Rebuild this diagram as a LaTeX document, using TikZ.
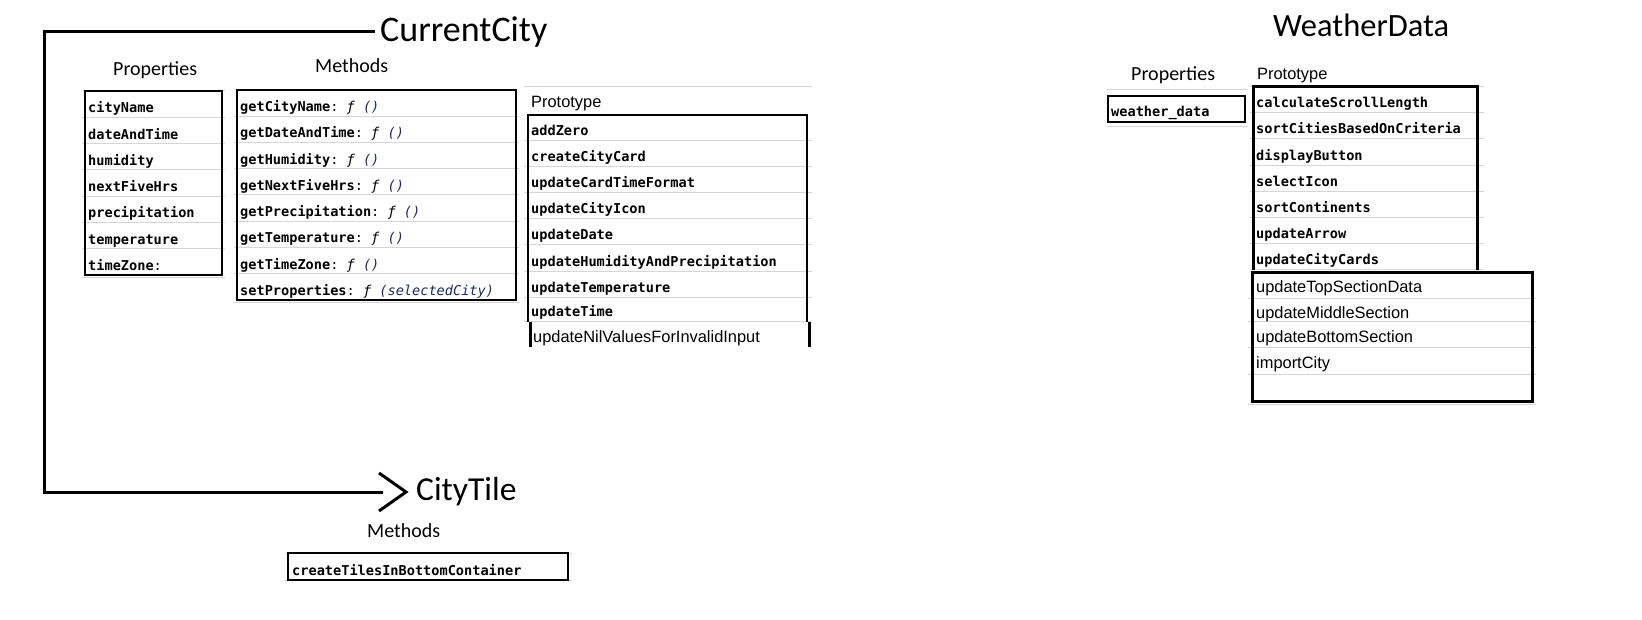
\documentclass[tikz,border=0pt]{standalone}
\usepackage{fontspec}
\setmainfont{Carlito}
\newfontfamily\arialf{Liberation Sans}
\newfontfamily\monof{DejaVu Sans Mono}
\definecolor{gridgray}{HTML}{D6D6D6}
\definecolor{navyc}{HTML}{1F2A5C}
\newcommand{\fsig}[1]{{\mdseries:\ {\itshape ƒ}\ {\itshape\color{navyc}(#1)}}}
\begin{document}
\begin{tikzpicture}[x=1pt,y=-1pt,
  boxline/.style={draw=black,line width=2.2pt},
  thickbox/.style={draw=black,line width=3pt},
  gridl/.style={draw=gridgray,line width=1pt},
  mrow/.style={anchor=base west,inner sep=0pt,font=\monof\bfseries\fontsize{13.6}{16}\selectfont},
  arow/.style={anchor=base west,inner sep=0pt,font=\arialf\fontsize{16.4}{19}\selectfont},
  lbl/.style={anchor=base west,inner sep=0pt,font=\fontsize{20}{24}\selectfont},
  conn/.style={line width=3pt}]
\fill[white] (0,0) rectangle (1642,620);
\useasboundingbox (0,0) rectangle (1642,620);

% ---------- titles ----------
\node[font=\fontsize{36}{42}\selectfont,anchor=west,inner sep=5pt] (cc) at (375,32) {CurrentCity};
\node[font=\fontsize{32.5}{38}\selectfont,anchor=base west,inner sep=0pt] (wd) at (1273,37) {WeatherData};
\node[font=\fontsize{33.5}{40}\selectfont,anchor=west,inner sep=10pt] (ct) at (406,492) {CityTile};

% ---------- connector CurrentCity -> CityTile ----------
\coordinate (c2) at (44,492);
\coordinate (tipback) at ([xshift=-23pt]ct.west);
\draw[conn,line join=miter] (cc.west) -| (c2) -- (tipback);
\draw[conn,line join=miter] ([xshift=-27pt,yshift=-19pt]ct.west) -- (ct.west) -- ([xshift=-27pt,yshift=19pt]ct.west);

% ---------- CurrentCity : Properties ----------
\node[lbl] (lp1) at (113,76) {Properties};
\foreach \k in {1,...,6} \draw[gridl] (82,{91+26.3*\k}) -- (225,{91+26.3*\k});
\draw[gridl] (82,91) -- (225,91);
\draw[gridl] (82,278) -- (225,278);
\draw[boxline] (85,91) rectangle (222,275);
\foreach \t [count=\i] in {cityName,dateAndTime,humidity,nextFiveHrs,precipitation,temperature}
  \node[mrow] (p\i) at (88,{91+26.3*\i-4.5}) {\t};
\node[mrow] (p7) at (88,{91+26.3*7-4.5}) {timeZone\mdseries:};

% ---------- CurrentCity : Methods ----------
\node[lbl] (lm1) at (315,73) {Methods};
\foreach \k in {1,...,7} \draw[gridl] (234,{90+26.25*\k}) -- (519,{90+26.25*\k});
\draw[gridl] (234,303) -- (519,303);
\draw[boxline] (237,90) rectangle (516,300);
\foreach \t [count=\i] in {getCityName,getDateAndTime,getHumidity,getNextFiveHrs,getPrecipitation,getTemperature,getTimeZone}
  \node[mrow] (m\i) at (240,{90+26.25*\i-4.5}) {\t\fsig{}};
\node[mrow] (m8) at (240,{90+26.25*8-4.5}) {setProperties\fsig{selectedCity}};

% ---------- CurrentCity : Prototype ----------
\node[arow] (lpr1) at (531,108) {Prototype};
\draw[gridl] (524,87) -- (812,87);
\foreach \yy in {141,167,193,219,245,272,298,322} \draw[gridl] (524,\yy) -- (812,\yy);
\draw[boxline] (528,322) -- (528,115) -- (807,115) -- (807,322);
\foreach \t/\yy [count=\i] in {addZero/141,createCityCard/167,updateCardTimeFormat/193,updateCityIcon/219,updateDate/245,updateHumidityAndPrecipitation/272,updateTemperature/298,updateTime/322}
  \node[mrow] (pr\i) at (531,\yy-5) {\t};
\draw[thickbox] (530,322) -- (530,347);
\draw[thickbox] (809,322) -- (809,347);
\node[arow] (pr9) at (533,343) {updateNilValuesForInvalidInput};

% ---------- WeatherData : Properties ----------
\node[lbl] (lp2) at (1131,81) {Properties};
\draw[gridl] (1106,90) -- (1248,90);
\draw[gridl] (1106,127) -- (1248,127);
\draw[boxline] (1108,96) rectangle (1245,122);
\node[mrow] (wd1) at (1111,117) {weather\_data};

% ---------- WeatherData : Prototype ----------
\node[arow] (lpr2) at (1257,80) {Prototype};
\foreach \yy in {87,113,139,166,192,218,244,270} \draw[gridl] (1250,\yy) -- (1484,\yy);
\draw[thickbox] (1253,270) -- (1253,87) -- (1477,87) -- (1477,270);
\foreach \t/\yy [count=\i] in {calculateScrollLength/113,sortCitiesBasedOnCriteria/139,displayButton/166,selectIcon/192,sortContinents/218,updateArrow/244,updateCityCards/270}
  \node[mrow] (w\i) at (1256,\yy-5) {\t};
\foreach \yy in {299,322,348,375} \draw[gridl] (1248,\yy) -- (1536,\yy);
\draw[gridl] (1248,404) -- (1536,404);
\draw[thickbox] (1252,273) rectangle (1532,401);
\node[arow] (w8) at (1256,293) {updateTopSectionData};
\node[arow] (w9) at (1256,319) {updateMiddleSection};
\node[arow] (w10) at (1256,343) {updateBottomSection};
\node[arow] (w11) at (1256,369) {importCity};

% ---------- CityTile : Methods ----------
\node[lbl] (lm2) at (367,537) {Methods};
\draw[gridl] (285,553) -- (572,553);
\draw[gridl] (285,580) -- (572,580);
\draw[boxline] (288,553) rectangle (568,580);
\node[mrow] (t1) at (292,575) {createTilesInBottomContainer};
\end{tikzpicture}
\end{document}
